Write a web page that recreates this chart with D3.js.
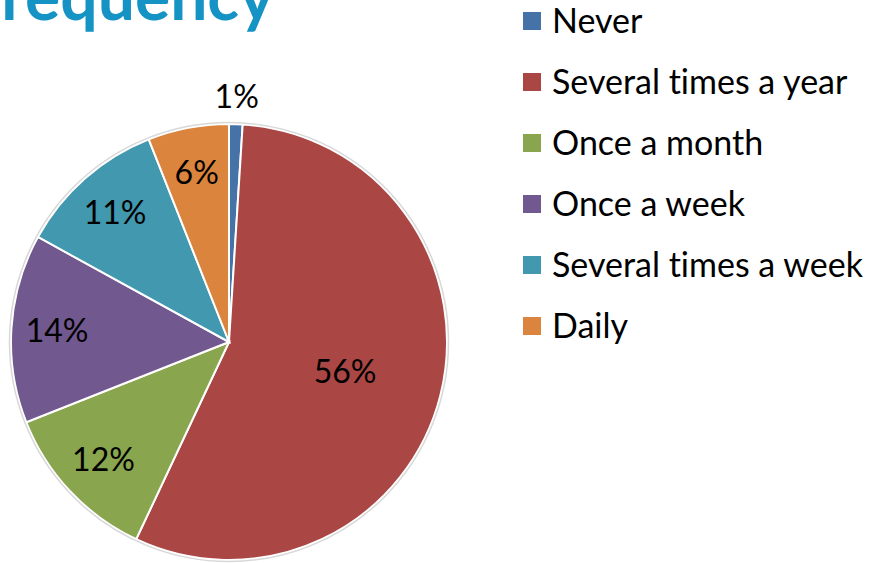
<!DOCTYPE html>
<html>
<head>
<meta charset="utf-8">
<script src="https://cdn.jsdelivr.net/npm/d3@7"></script>
<style>
  body { margin: 0; background: #fff; }
  svg { display: block; font-family: Lato, "Open Sans", sans-serif; font-variant-ligatures: none; }
  .title { font-weight: bold; fill: #1593c4; }
  .pct { fill: #000; }
  .legend text { fill: #000; }
</style>
</head>
<body>
<svg id="chart" width="874" height="563"></svg>
<script>
// chart data
var categories = ["Never", "Several times a year", "Once a month", "Once a week", "Several times a week", "Daily"];
var shares = [1, 56, 12, 14, 11, 6];
var colors = ["#4572a7", "#aa4643", "#89a54e", "#71588f", "#4198af", "#db843d"];
var titleText = "Frequency";

var width = 874, height = 563;
var cx = 229, cy = 342, radius = 218;

var svg = d3.select("#chart");

// title, cut off by the top and left edges like in the slide
svg.append("text")
  .attr("class", "title")
  .attr("x", 274)
  .attr("y", 20)
  .attr("text-anchor", "end")
  .style("font-size", "66px")
  .text(titleText);

var data = categories.map(function(c, i) { return { name: c, value: shares[i], color: colors[i] }; });

var pie = d3.pie()
  .sort(null)
  .value(function(d) { return d.value; });

var arc = d3.arc()
  .innerRadius(0)
  .outerRadius(radius);

var g = svg.append("g")
  .attr("transform", "translate(" + cx + "," + cy + ")");

g.selectAll(".slice")
  .data(pie(data))
  .enter()
  .append("path")
  .attr("class", "slice")
  .attr("fill", function(d) { return d.data.color; })
  .attr("stroke", "#fff")
  .attr("stroke-width", 2)
  .attr("d", arc);

// faint rim
g.append("circle")
  .attr("r", radius + 1.5)
  .attr("fill", "none")
  .attr("stroke", "#d8d8d8")
  .attr("stroke-width", 1.5);

// label radius: tiny slices go outside, the big one closer to centre
function labelRadius(v) {
  if (v < 3) return radius + 27;
  if (v > 50) return radius * 0.55;
  return radius * 0.79;
}

g.selectAll(".pct")
  .data(pie(data))
  .enter()
  .append("text")
  .attr("class", "pct")
  .attr("text-anchor", "middle")
  .attr("dy", "0.35em")
  .style("font-size", "32px")
  .attr("transform", function(d) {
    var a = (d.startAngle + d.endAngle) / 2;
    var r = labelRadius(d.data.value);
    return "translate(" + (r * Math.sin(a)) + "," + (-r * Math.cos(a)) + ")";
  })
  .text(function(d) { return d.data.value + "%"; });

// legend
var legend = svg.append("g")
  .attr("class", "legend")
  .attr("transform", "translate(523,21)");

var item = legend.selectAll("g")
  .data(data)
  .enter()
  .append("g")
  .attr("transform", function(d, i) { return "translate(0," + (i * 61) + ")"; });

item.append("rect")
  .attr("x", 0)
  .attr("y", -9)
  .attr("width", 18)
  .attr("height", 18)
  .attr("fill", function(d) { return d.color; });

item.append("text")
  .attr("x", 29)
  .attr("dy", "0.35em")
  .style("font-size", "34px")
  .text(function(d) { return d.name; });
</script>
</body>
</html>
